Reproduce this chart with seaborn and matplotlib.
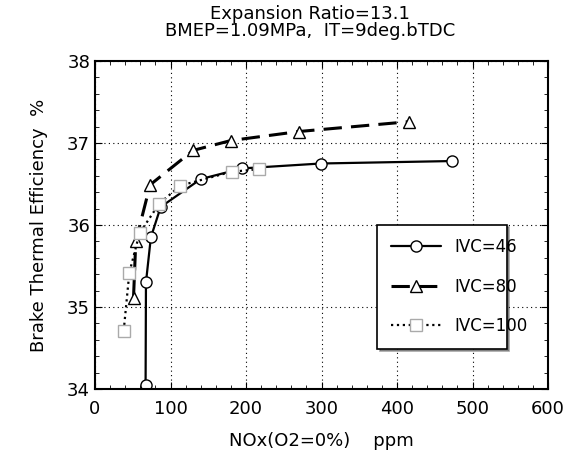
import matplotlib
matplotlib.use("Agg")
import matplotlib.pyplot as plt
import seaborn as sns
import pandas as pd
from matplotlib.ticker import MultipleLocator

sns.set_style("ticks")
plt.rcParams['font.family'] = ['DejaVu Sans']
plt.rcParams.update({'text.color': 'black', 'axes.labelcolor': 'black',
                     'xtick.color': 'black', 'ytick.color': 'black'})

x46 = [67, 67.5, 74, 87, 140, 195, 299, 473]
y46 = [34.05, 35.30, 35.85, 36.22, 36.56, 36.69, 36.75, 36.78]
x80 = [51, 54, 73, 130, 180, 270, 416]
y80 = [35.11, 35.80, 36.49, 36.91, 37.03, 37.14, 37.26]
x100 = [38, 45.5, 59, 85, 113, 181, 217]
y100 = [34.71, 35.42, 35.90, 36.26, 36.48, 36.65, 36.68]
labels = ["IVC=46", "IVC=80", "IVC=100"]

fig = plt.figure(figsize=(5.72, 4.59), dpi=100)
ax = fig.add_axes([95/572, 1-389/459, 453/572, 328/459])

series = [
    (x46, y46, labels[0], 'o', '-', 1.6, 'black'),
    (x80, y80, labels[1], '^', (0, (6, 3)), 2.2, 'black'),
    (x100, y100, labels[2], 's', ':', 1.6, '#aaaaaa'),
]
for xs, ys, lab, mk, ls, lw, mec in series:
    df = pd.DataFrame({"x": xs, "y": ys})
    sns.lineplot(data=df, x="x", y="y", ax=ax, sort=False, color='black',
                 linestyle=ls, linewidth=lw, marker=mk, markersize=8,
                 markerfacecolor='white', markeredgecolor=mec,
                 markeredgewidth=1.0, label=lab)

ax.set_xlim(0, 600)
ax.set_ylim(34, 38)
ax.xaxis.set_major_locator(MultipleLocator(100))
ax.xaxis.set_minor_locator(MultipleLocator(20))
ax.yaxis.set_major_locator(MultipleLocator(1))
ax.yaxis.set_minor_locator(MultipleLocator(0.2))
ax.tick_params(which='both', direction='in', top=True, right=True, labelsize=13)
ax.tick_params(which='major', length=5)
ax.tick_params(which='minor', length=3)
ax.tick_params(axis='x', pad=8)
ax.grid(True, which='major', linestyle=(0, (1, 3)), color='black', linewidth=0.8)
for s in ax.spines.values():
    s.set_linewidth(1.5)
    s.set_color('black')

ax.set_xlabel("NOx(O2=0%)    ppm", fontsize=13, labelpad=10)
ax.set_ylabel("Brake Thermal Efficiency  %", fontsize=13, labelpad=14)

fig.text(310/572, 1-14/459, "Expansion Ratio=13.1", ha='center', va='center', fontsize=13)
fig.text(310/572, 1-31/459, "BMEP=1.09MPa,  IT=9deg.bTDC", ha='center', va='center', fontsize=13)

leg = ax.legend(loc='lower left', bbox_to_anchor=(0.605, 0.098, 0.322, 0.32),
                mode='expand', fancybox=False, shadow=True, framealpha=1,
                edgecolor='black', fontsize=12, handlelength=3.0,
                labelspacing=1.3, borderpad=0.8)
leg.get_frame().set_linewidth(1.2)

fig.savefig("out.png", dpi=100)
